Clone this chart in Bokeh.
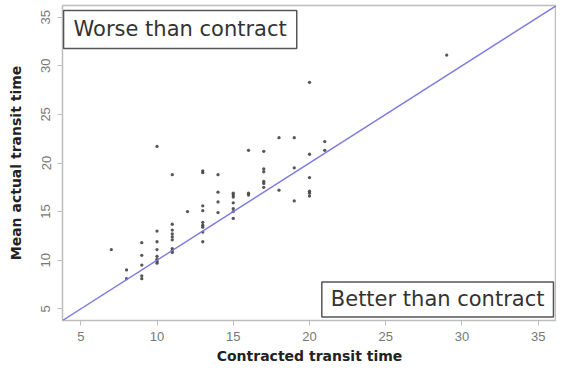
from bokeh.plotting import figure
from bokeh.models import Label, Slope, Range1d, FixedTicker
from bokeh.embed import file_html
from bokeh.resources import INLINE

contracted = [7,
              8, 8,
              9, 9, 9, 9, 9,
              10, 10, 10, 10, 10, 10, 10, 10,
              11, 11, 11, 11, 11, 11, 11, 11, 11,
              12,
              13, 13, 13, 13, 13, 13, 13, 13, 13,
              14, 14, 14, 14,
              15, 15, 15, 15, 15, 15, 15,
              16, 16, 16,
              17, 17, 17, 17, 17, 17,
              18, 18,
              19, 19, 19,
              20, 20, 20, 20, 20, 20,
              21, 21,
              29]
actual = [11.1,
          9.0, 8.1,
          11.8, 10.5, 9.5, 8.4, 8.1,
          21.7, 13.0, 11.9, 11.1, 10.4, 10.1, 9.9, 9.7,
          18.8, 13.7, 13.1, 12.7, 12.4, 12.1, 11.2, 11.0, 10.8,
          15.0,
          19.2, 19.0, 15.6, 15.1, 13.9, 13.6, 13.4, 12.9, 11.9,
          18.8, 17.0, 16.0, 14.9,
          16.9, 16.7, 16.5, 15.9, 15.3, 15.0, 14.3,
          21.3, 16.9, 16.7,
          21.2, 19.4, 19.1, 18.1, 17.9, 17.5,
          22.6, 17.2,
          22.6, 19.5, 16.1,
          28.3, 20.9, 18.5, 17.1, 16.9, 16.6,
          22.2, 21.3,
          31.1]
ticks = [5, 10, 15, 20, 25, 30, 35]
x_title = "Contracted transit time"
y_title = "Mean actual transit time"
upper_note = "Worse than contract"
lower_note = "Better than contract"

p = figure(width=556, height=366, output_backend="svg", toolbar_location=None,
           x_range=Range1d(3.8, 36.2), y_range=Range1d(3.8, 36.2),
           min_border_left=62, min_border_right=0, min_border_top=5, min_border_bottom=44)
p.background_fill_color = "white"
p.border_fill_color = "white"
p.outline_line_color = "#bdbdbd"
p.outline_line_width = 1.5
p.xgrid.visible = False
p.ygrid.visible = False

for ax in (p.xaxis[0], p.yaxis[0]):
    ax.ticker = FixedTicker(ticks=ticks)
    ax.minor_tick_line_color = None
    ax.axis_line_color = "#bdbdbd"
    ax.major_tick_line_color = "#bdbdbd"
    ax.major_tick_out = 5
    ax.major_tick_in = 0
    ax.major_label_text_font = "Liberation Sans"
    ax.major_label_text_font_size = "13px"
    ax.major_label_text_color = "#777777"
    ax.axis_label_text_font = "DejaVu Sans"
    ax.axis_label_text_font_size = "14px"
    ax.axis_label_text_font_style = "bold"
    ax.axis_label_text_color = "#222222"

p.xaxis.axis_label = x_title
p.yaxis.axis_label = y_title
p.yaxis.major_label_orientation = "vertical"
p.xaxis.major_label_standoff = 6
p.xaxis.axis_label_standoff = 4
p.yaxis.major_label_standoff = 7
p.yaxis.axis_label_standoff = 15

p.add_layout(Slope(gradient=1, y_intercept=0, line_color="#7b7bdf", line_width=1.4))

p.scatter(contracted, actual, size=3.3, fill_color="#3a3a3a", line_color=None, alpha=0.85)

lab1 = Label(x=3.87, y=35.69, text=upper_note, anchor="top_left",
             text_font="DejaVu Sans", text_font_size="21px", text_color="#333333",
             padding=dict(left=10, right=10, top=7, bottom=7),
             border_line_color="#555555", border_line_width=1.5,
             background_fill_color="white")
lab2 = Label(x=36.0, y=4.17, text=lower_note, anchor="bottom_right",
             text_font="DejaVu Sans", text_font_size="21px", text_color="#333333",
             padding=dict(left=9, right=9, top=5, bottom=6),
             border_line_color="#555555", border_line_width=1.5,
             background_fill_color="white")
p.add_layout(lab1)
p.add_layout(lab2)

open("out.html", "w").write(file_html(p, INLINE))
